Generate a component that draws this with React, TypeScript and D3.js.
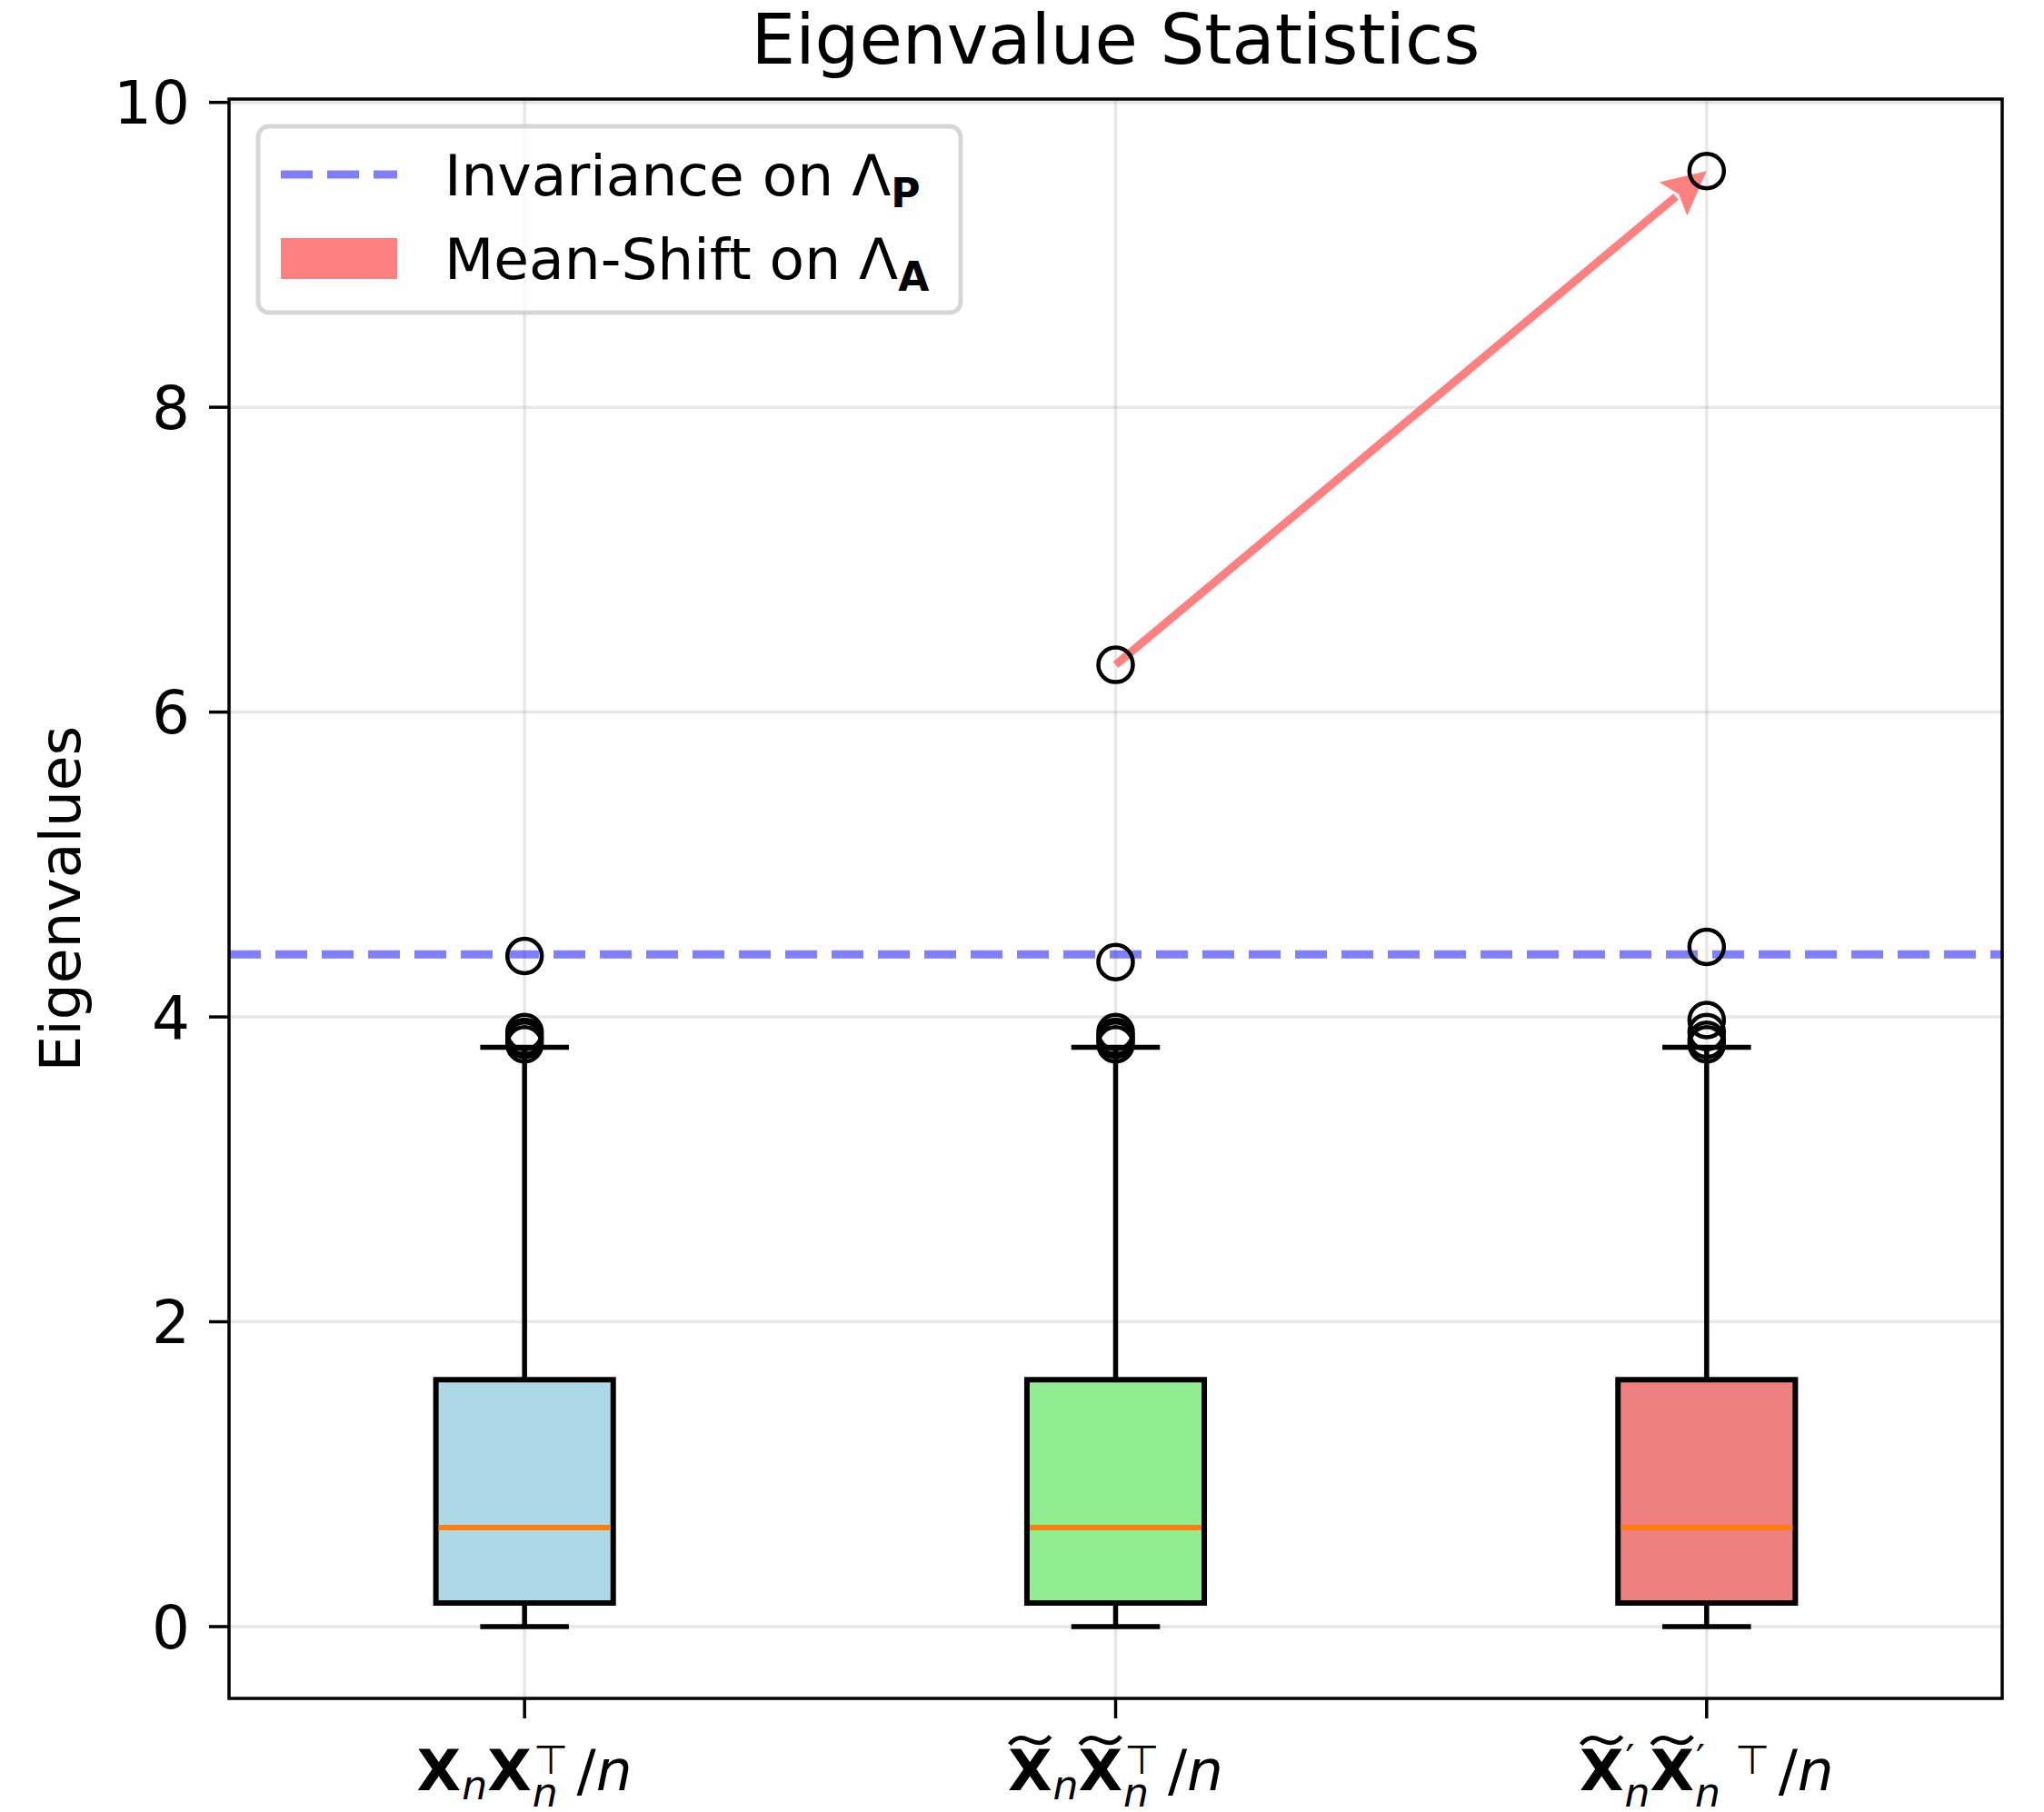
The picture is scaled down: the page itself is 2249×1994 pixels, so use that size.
import React from "react";
import * as d3 from "d3";

// ---------- data ----------
const positions = [1, 2, 3];
const boxColors = ["#add8e6", "#90ee90", "#f08080"];
const q1s = [0.155, 0.155, 0.155];
const medians = [0.65, 0.65, 0.65];
const q3s = [1.62, 1.62, 1.62];
const whiskerLows = [0.0, 0.0, 0.0];
const whiskerHighs = [3.8, 3.8, 3.8];
const outliers1 = [3.82, 3.85, 3.87, 3.9, 4.4];
const outliers2 = [3.82, 3.85, 3.87, 3.9, 4.36, 6.31];
const outliers3 = [3.82, 3.85, 3.9, 3.98, 4.46, 9.55];
const outlierSets = [outliers1, outliers2, outliers3];
const yTicks = [0, 2, 4, 6, 8, 10];
const invarianceLevel = 4.41;
const arrowFrom = [2, 6.31];
const arrowTo = [3, 9.55];
const title = "Eigenvalue Statistics";
const yLabel = "Eigenvalues";
const legendLabels = ["Invariance on Λ", "Mean-Shift on Λ"];
const legendSubs = ["P", "A"];

// ---------- layout ----------
const W = 2249;
const H = 1994;
const L = 252, R = 2203, T = 109, B = 1869;
const FONT = "DejaVu Sans";
const FS = 64;

const x = d3.scaleLinear().domain([0.5, 3.5]).range([L, R]);
const y = d3.scaleLinear().domain([-0.471, 10.022]).range([B, T]);

let ctx: CanvasRenderingContext2D | null = null;
function measure(t: string, size: number, bold: boolean, italic: boolean) {
  if (!ctx) ctx = document.createElement("canvas").getContext("2d");
  if (!ctx) return t.length * size * 0.6;
  ctx.font = `${italic ? "oblique " : ""}${bold ? "bold " : ""}${size}px "${FONT}"`;
  return ctx.measureText(t).width;
}

type Tok =
  | { k: "t"; t: string; b?: boolean; i?: boolean; tilde?: boolean }
  | { k: "gap"; w: number }
  | { k: "ss"; sub?: string; sup?: string };

function layout(tokens: Tok[], size: number) {
  const s = size * 0.7;
  const items: any[] = [];
  let cx = 0;
  for (const tk of tokens) {
    if (tk.k === "t") {
      const w = measure(tk.t, size, !!tk.b, !!tk.i);
      items.push({ t: tk.t, x: cx, dy: 0, size, b: tk.b, i: tk.i });
      if (tk.tilde) items.push({ tilde: true, x: cx, w });
      cx += w;
    } else if (tk.k === "gap") {
      cx += tk.w * size;
    } else {
      let w = 0;
      if (tk.sub) {
        const ws = measure(tk.sub, s, false, true);
        items.push({ t: tk.sub, x: cx + 1, dy: tk.sup ? size * 0.28 : size * 0.16, size: s, i: true });
        w = Math.max(w, ws + 1);
      }
      if (tk.sup) {
        const ws = measure(tk.sup, s, false, false);
        items.push({ t: tk.sup, x: cx + 2, dy: -size * 0.29, size: s });
        w = Math.max(w, ws + 2);
      }
      cx += w;
    }
  }
  return { items, width: cx };
}

const tickTokens: Tok[][] = [
  [
    { k: "t", t: "X", b: true },
    { k: "ss", sub: "n" },
    { k: "t", t: "X", b: true },
    { k: "ss", sub: "n", sup: "⊤" },
    { k: "gap", w: 0.15 },
    { k: "t", t: "/" },
    { k: "t", t: "n", i: true },
  ],
  [
    { k: "t", t: "X", b: true, tilde: true },
    { k: "ss", sub: "n" },
    { k: "t", t: "X", b: true, tilde: true },
    { k: "ss", sub: "n", sup: "⊤" },
    { k: "gap", w: 0.15 },
    { k: "t", t: "/" },
    { k: "t", t: "n", i: true },
  ],
  [
    { k: "t", t: "X", b: true, tilde: true },
    { k: "ss", sub: "n", sup: "′" },
    { k: "t", t: "X", b: true, tilde: true },
    { k: "ss", sub: "n", sup: "′" },
    { k: "gap", w: 0.22 },
    { k: "ss", sup: "⊤" },
    { k: "gap", w: 0.15 },
    { k: "t", t: "/" },
    { k: "t", t: "n", i: true },
  ],
];

function MathLabel({ cx, baseline, tokens, size }: { cx: number; baseline: number; tokens: Tok[]; size: number }) {
  const { items, width } = layout(tokens, size);
  const x0 = cx - width / 2;
  return (
    <g>
      {items.map((it, i) =>
        it.tilde ? (
          <path
            key={i}
            d={(() => {
              const xa = x0 + it.x + it.w * 0.04;
              const xb = x0 + it.x + it.w * 0.96;
              const yc = baseline - size * 0.87;
              const a = size * 0.07;
              const m = (xa + xb) / 2;
              return `M${xa},${yc + a} C${xa + (m - xa) * 0.4},${yc - a * 1.6} ${m - (m - xa) * 0.2},${yc - a * 0.4} ${m},${yc} S${xb - (xb - m) * 0.4},${yc + a * 1.6} ${xb},${yc - a}`;
            })()}
            fill="none"
            stroke="#000"
            strokeWidth={size * 0.075}
          />
        ) : (
          <text
            key={i}
            x={x0 + it.x}
            y={baseline + it.dy}
            fontSize={it.size}
            fontWeight={it.b ? "bold" : "normal"}
            fontStyle={it.i ? "oblique" : "normal"}
            fontFamily={FONT}
            style={{ whiteSpace: "pre" }}
          >
            {it.t}
          </text>
        )
      )}
    </g>
  );
}

export default function App() {
  const boxW = x(1.15) - x(0.85);
  const capW = x(1.075) - x(0.925);
  const r = 19;

  const ax0 = x(arrowFrom[0]), ay0 = y(arrowFrom[1]);
  const ax1 = x(arrowTo[0]), ay1 = y(arrowTo[1]);
  const ang = Math.atan2(ay1 - ay0, ax1 - ax0);
  const headL = 48, headW = 48;
  const ux = Math.cos(ang), uy = Math.sin(ang);
  const bx = ax1 - ux * headL, by = ay1 - uy * headL;
  const px = -uy, py = ux;

  const legX = 284, legY = 139, legW = 773, legH = 205;

  return (
    <svg width={W} height={H} style={{ position: "absolute", left: 0, top: 0, background: "#fff" }}>
      <rect x={0} y={0} width={W} height={H} fill="#fff" />
      {/* grid */}
      <g stroke="#b0b0b0" strokeOpacity={0.3} strokeWidth={3.5}>
        {yTicks.map((t) => (
          <line key={"gy" + t} x1={L} x2={R} y1={y(t)} y2={y(t)} />
        ))}
        {positions.map((p) => (
          <line key={"gx" + p} y1={T} y2={B} x1={x(p)} x2={x(p)} />
        ))}
      </g>
      {/* invariance line */}
      <line
        x1={L}
        x2={R}
        y1={y(invarianceLevel)}
        y2={y(invarianceLevel)}
        stroke="#0000ff"
        strokeOpacity={0.5}
        strokeWidth={9}
        strokeDasharray="35,16"
      />
      {/* boxes */}
      {positions.map((p, i) => {
        const cx = x(p);
        return (
          <g key={"b" + p} stroke="#000" strokeWidth={5.5}>
            <line x1={cx} x2={cx} y1={y(q3s[i])} y2={y(whiskerHighs[i])} />
            <line x1={cx} x2={cx} y1={y(q1s[i])} y2={y(whiskerLows[i])} />
            <line x1={cx - capW / 2} x2={cx + capW / 2} y1={y(whiskerHighs[i])} y2={y(whiskerHighs[i])} />
            <line x1={cx - capW / 2} x2={cx + capW / 2} y1={y(whiskerLows[i])} y2={y(whiskerLows[i])} />
            <rect
              x={cx - boxW / 2}
              y={y(q3s[i])}
              width={boxW}
              height={y(q1s[i]) - y(q3s[i])}
              fill={boxColors[i]}
              strokeWidth={6}
            />
            <line
              x1={cx - boxW / 2 + 3}
              x2={cx + boxW / 2 - 3}
              y1={y(medians[i])}
              y2={y(medians[i])}
              stroke="#ff7f0e"
              strokeWidth={6}
            />
          </g>
        );
      })}
      {/* arrow */}
      <g fill="#ff8080" stroke="none">
        <line x1={ax0} y1={ay0} x2={bx + ux * 4} y2={by + uy * 4} stroke="#ff8080" strokeWidth={9} />
        <polygon
          points={`${ax1},${ay1} ${bx + px * headW / 2},${by + py * headW / 2} ${bx + ux * 8},${by + uy * 8} ${bx - px * headW / 2},${by - py * headW / 2}`}
        />
      </g>
      {/* outliers */}
      {positions.map((p, i) => (
        <g key={"o" + p} fill="none" stroke="#000" strokeWidth={4.5}>
          {outlierSets[i].map((v, j) => (
            <circle key={j} cx={x(p)} cy={y(v)} r={r} />
          ))}
        </g>
      ))}
      {/* spines */}
      <rect x={L} y={T} width={R - L} height={B - T} fill="none" stroke="#000" strokeWidth={3.5} />
      {/* y ticks */}
      {yTicks.map((t) => (
        <g key={"yt" + t}>
          <line x1={L - 22} x2={L} y1={y(t)} y2={y(t)} stroke="#000" strokeWidth={3.5} />
          <text x={L - 43} y={y(t)} dy="0.36em" textAnchor="end" fontSize={FS + 2} fontFamily={FONT}>
            {t}
          </text>
        </g>
      ))}
      {/* x ticks */}
      {positions.map((p, i) => (
        <g key={"xt" + p}>
          <line x1={x(p)} x2={x(p)} y1={B} y2={B + 22} stroke="#000" strokeWidth={3.5} />
          <MathLabel cx={x(p)} baseline={1970} tokens={tickTokens[i]} size={FS - 1} />
        </g>
      ))}
      {/* title & y label */}
      <text x={(L + R) / 2} y={70} textAnchor="middle" fontSize={77} fontFamily={FONT}>
        {title}
      </text>
      <text
        transform={`translate(65,${(T + B) / 2}) rotate(-90)`}
        textAnchor="middle"
        dy="0.36em"
        fontSize={FS - 1}
        fontFamily={FONT}
      >
        {yLabel}
      </text>
      {/* legend */}
      <rect
        x={legX}
        y={legY}
        width={legW}
        height={legH}
        rx={12}
        fill="#fff"
        fillOpacity={0.8}
        stroke="#cccccc"
        strokeOpacity={0.8}
        strokeWidth={5}
      />
      <line x1={309} x2={437} y1={192} y2={192} stroke="#0000ff" strokeOpacity={0.5} strokeWidth={9} strokeDasharray="35,16" />
      <rect x={309} y={262} width={128} height={45} fill="#ff8080" />
      {legendLabels.map((lab, i) => (
        <text key={"lg" + i} x={489} y={i === 0 ? 215 : 307} fontSize={FS - 1} fontFamily={FONT}>
          {lab}
          <tspan fontWeight="bold" fontSize={(FS - 1) * 0.7} dy={(FS - 1) * 0.2}>
            {legendSubs[i]}
          </tspan>
        </text>
      ))}
    </svg>
  );
}
